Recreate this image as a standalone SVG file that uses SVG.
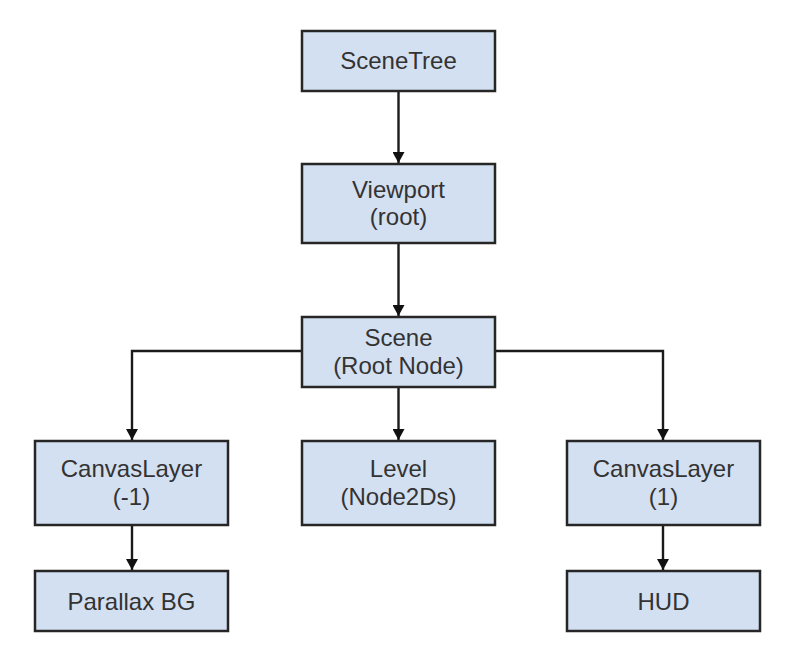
<svg xmlns="http://www.w3.org/2000/svg" width="801" height="665" viewBox="0 0 801 665">
<style>
.box{fill:#d3e0f1;stroke:#262626;stroke-width:2.5}
.t{font-family:"Liberation Sans",Arial,sans-serif;font-size:24px;fill:#333;text-anchor:middle}
.c{fill:none;stroke:#1a1a1a;stroke-width:2.4}
</style>
<defs>
<marker id="ah" markerWidth="12" markerHeight="12" viewBox="0 0 12 12" refX="11" refY="6" orient="auto" markerUnits="userSpaceOnUse">
<path d="M0,0 L11,6 L0,12 Z" fill="#111"/>
</marker>
</defs>
<rect width="801" height="665" fill="#fff"/>
<g id="connectors">
<path class="c" d="M398.5,91 V163" marker-end="url(#ah)"/>
<path class="c" d="M398.5,243 V316" marker-end="url(#ah)"/>
<path class="c" d="M398.5,387 V440" marker-end="url(#ah)"/>
<path class="c" d="M302,351 H132 V440" marker-end="url(#ah)"/>
<path class="c" d="M495,351 H663 V440" marker-end="url(#ah)"/>
<path class="c" d="M132,525 V570" marker-end="url(#ah)"/>
<path class="c" d="M663,525 V570" marker-end="url(#ah)"/>
</g>
<g id="scenetree"><rect class="box" x="302" y="31" width="193" height="60"/><text class="t" x="398.5" y="69">SceneTree</text></g>
<g id="viewport"><rect class="box" x="302" y="164" width="193" height="79"/><text class="t" x="398.5" y="198">Viewport</text><text class="t" x="398.5" y="225">(root)</text></g>
<g id="scene"><rect class="box" x="302" y="317" width="193" height="70"/><text class="t" x="398.5" y="346">Scene</text><text class="t" x="398.5" y="374">(Root Node)</text></g>
<g id="canvaslayer-1"><rect class="box" x="35" y="441" width="193" height="84"/><text class="t" x="131.5" y="477">CanvasLayer</text><text class="t" x="131.5" y="505">(-1)</text></g>
<g id="level"><rect class="box" x="302" y="441" width="193" height="84"/><text class="t" x="398.5" y="477">Level</text><text class="t" x="398.5" y="505">(Node2Ds)</text></g>
<g id="canvaslayer1"><rect class="box" x="567" y="441" width="193" height="84"/><text class="t" x="663.5" y="477">CanvasLayer</text><text class="t" x="663.5" y="505">(1)</text></g>
<g id="parallaxbg"><rect class="box" x="35" y="571" width="193" height="60"/><text class="t" x="131.5" y="610">Parallax BG</text></g>
<g id="hud"><rect class="box" x="567" y="571" width="193" height="60"/><text class="t" x="663.5" y="610">HUD</text></g>
</svg>
